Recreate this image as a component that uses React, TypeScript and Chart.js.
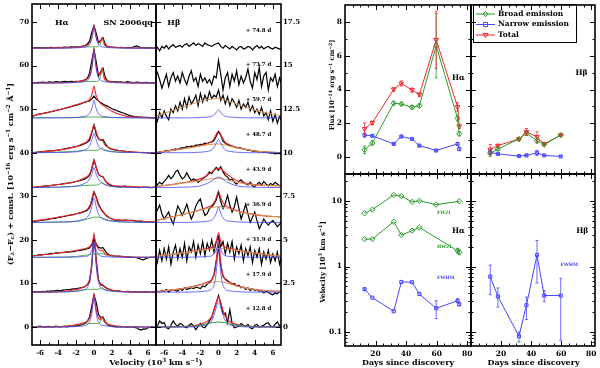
import React, { useEffect, useRef } from "react";
import { Chart, registerables } from "chart.js";

Chart.register(...registerables);

const W = 600;
const H = 368;
const FONT = '"DejaVu Serif", serif';
const RED = "#f0282d";
const BLUE = "#4646ff";
const GREEN = "#2c9c2c";
const TAN = "#d49b52";

// ---------------- spectra data ----------------
const OBS_V = [-7,-6.75,-6.5,-6.25,-6,-5.75,-5.5,-5.25,-5,-4.75,-4.5,-4.25,-4,-3.75,-3.5,-3.25,-3,-2.75,-2.5,-2.25,-2,-1.75,-1.5,-1.25,-1,-0.75,-0.5,-0.25,0,0.25,0.5,0.75,1,1.25,1.5,1.75,2,2.25,2.5,2.75,3,3.25,3.5,3.75,4,4.25,4.5,4.75,5,5.25,5.5,5.75,6,6.25,6.5,6.75,7];
const FIT_V = [-7,-4,-2,-1.2,-0.7,-0.4,-0.2,0,0.2,0.4,0.7,0.9,1.2,2,4,7];

const EPOCHS = ["12.8","17.9","31.9","36.9","43.9","48.7","59.7","73.7","74.8"];
const HA_OFFSET = [0,8,16,24,32,40,48,56,64];
const HB_OFFSET = [0,2,4,6,8,10,12,14,16];

const HA_OBS_128 = [0.05,0,-0.1,0.1,0.2,0.05,-0.05,0.1,0.15,0, 0.05,0.2,0.1,0,0.1,0.15,0.05,0.2,0.25,0.15, 0.25,0.35,0.4,0.6,0.85,1.3,2.2,4.8,7.4,5.6, 2.9,2.1,2.3,1.2,0.5,0.3,0.15,0.1,0.05,0.1, 0,0.1,0.05,-0.05,0.05,0,-0.1,-0.2,-0.55,-0.7, -0.45,-0.5,-0.15,-0.1,0,-0.05,0];
const HA_OBS_179 = [0.1,0,0.1,0.15,0.05,0.2,0.1,0.25,0.2,0.3, 0.25,0.35,0.4,0.3,0.45,0.5,0.6,0.55,0.7,0.75, 0.8,0.9,1.0,1.1,1.3,1.7,2.4,6.0,13.0,7.5, 2.8,1.7,1.5,1.2,0.8,0.6,0.4,0.35,0.25,0.3, 0.2,0.15,0.1,0.2,0.1,0.05,0.15,0,0.1,0.05, 0,0.1,0,-0.05,0.05,0,0];
const HA_OBS_319 = [0.3,0.4,0.35,0.5,0.6,0.55,0.7,0.65,0.8,0.9, 0.85,1.0,0.95,1.1,1.05,1.15,1.25,1.2,1.35,1.3, 1.45,1.55,1.6,1.7,1.8,1.95,2.15,2.9,4.2,3.1, 2.3,2.1,2.2,1.4,0.8,0.5,0.4,0.3,0.2,0.25, 0.2,0.15,0.1,0.1,0.05,0,-0.05,-0.1,-0.25,-0.45, -0.6,-0.35,-0.1,0,0,0.05,0];
const HA_OBS_369 = [0.2,0.25,0.3,0.35,0.45,0.5,0.6,0.65,0.75,0.85, 0.95,1.0,1.15,1.15,1.35,1.4,1.55,1.6,1.75,1.8, 2.0,2.1,2.2,2.35,2.5,2.8,3.4,4.8,7.0,5.8, 4.2,3.2,2.5,1.8,1.3,1.0,0.8,0.6,0.5,0.55, 0.5,0.45,0.6,0.5,0.45,0.5,0.4,0.3,0.25,0.3, 0.2,0.15,0.1,0.15,0.1,0.05,0.1];
const HA_OBS_439 = [0,0.05,0.1,0.2,0.25,0.3,0.35,0.4,0.4,0.5, 0.55,0.65,0.7,0.75,0.85,0.9,1.0,1.05,1.15,1.25, 1.4,1.5,1.65,1.8,2.0,2.3,2.8,4.2,6.3,4.6, 3.0,2.6,2.5,1.6,1.0,0.6,0.45,0.3,0.25,0.2, 0.2,0.3,0.35,0.25,0.3,0.15,0.1,0.05,0,0.05, 0.1,0.05,0.1,0,0.05,0.1,0.05];
const HA_OBS_487 = [0,0.05,0.1,0.15,0.2,0.25,0.3,0.35,0.4,0.45, 0.5,0.55,0.6,0.7,0.8,0.9,1.0,1.1,1.2,1.3, 1.4,1.55,1.7,1.9,2.1,2.4,2.8,4.5,6.4,4.2, 3.2,2.9,3.0,2.1,1.4,1.0,0.8,0.65,0.6,0.5, 0.45,0.4,0.3,0.25,0.2,0.15,0.1,0.1,0.05,0.05, 0,0,-0.05,-0.05,-0.1,-0.1,-0.1];
const HA_OBS_597 = [0.35,0.45,0.6,0.8,0.9,1.0,1.1,1.2,1.3,1.45, 1.55,1.7,1.8,1.9,2.05,2.2,2.3,2.45,2.6,2.75, 2.9,3.05,3.2,3.4,3.6,3.75,3.9,4.3,5.0,4.3, 3.9,3.5,3.2,2.9,2.7,2.4,2.1,1.9,1.7,1.5, 1.3,1.1,0.9,0.7,0.5,0.4,0.3,0.25,0.2,0.15, 0.1,0.1,0.1,0.05,0,0,0];
const HA_OBS_737 = [0.05,0.1,0,0.15,0.1,0.2,0.15,0.1,0.25,0.2, 0.15,0.3,0.25,0.2,0.3,0.35,0.25,0.3,0.35,0.3, 0.4,0.35,0.45,0.55,0.7,1.1,2.2,5.0,7.7,4.8, 1.6,2.6,3.4,1.3,0.5,0.35,0.3,0.25,0.3,0.2, 0.25,0.15,0.2,0.3,0.2,0.15,0.1,0.2,0.15,0.1, 0.05,0.15,0.1,0.05,0.1,0.05,0.1];
const HA_OBS_748 = [0.1,0.05,0.1,0.15,0.1,0.05,0.1,0.15,0.1,0.2, 0.15,0.1,0.2,0.15,0.2,0.25,0.2,0.25,0.3,0.25, 0.3,0.3,0.35,0.45,0.6,0.9,1.6,3.6,5.2,3.4, 1.3,1.8,2.4,0.9,0.4,0.3,0.25,0.2,0.2,0.15, 0.2,0.15,0.1,0.15,0.1,0.2,0.35,0.5,0.3,0.15, 0.1,0.05,0.1,0.05,0,0.05,0.05];
const HA_OBS = [HA_OBS_128, HA_OBS_179, HA_OBS_319, HA_OBS_369, HA_OBS_439, HA_OBS_487, HA_OBS_597, HA_OBS_737, HA_OBS_748];

const HA_BROAD = [
  [0,0.05,0.4,0.68,0.78,0.8,0.82,0.82,0.82,0.8,1.1,2.0,0.9,0.35,0.05,0],
  [0,0.05,0.3,0.5,0.6,0.65,0.65,0.65,0.65,0.65,0.8,1.0,0.6,0.3,0.05,0],
  [0,0.05,0.2,0.4,0.55,0.65,0.7,0.75,0.75,0.75,0.8,0.9,0.6,0.25,0.05,0],
  [0,0.05,0.2,0.5,0.8,1.0,1.1,1.2,1.2,1.2,1.15,1.0,0.8,0.3,0.05,0],
  [0,0.1,0.3,0.45,0.5,0.55,0.55,0.55,0.55,0.6,0.9,1.2,0.7,0.25,0.05,0],
  [0,0.15,0.35,0.5,0.55,0.55,0.55,0.55,0.55,0.6,0.9,1.1,0.7,0.3,0.05,0],
  [0,0.02,0.05,0.1,0.15,0.2,0.2,0.2,0.2,0.2,0.15,0.12,0.1,0.05,0.02,0],
  [0,0.05,0.2,0.3,0.35,0.35,0.35,0.35,0.35,0.4,1.3,3.1,0.6,0.2,0.03,0],
  [0,0.05,0.15,0.25,0.3,0.3,0.3,0.3,0.3,0.35,0.9,2.2,0.5,0.15,0.03,0],
];
const HA_NARROW = [
  [0,0,0.1,0.27,0.6,1.7,3.7,6.8,3.7,1.7,0.6,0.4,0.27,0.1,0,0],
  [0,0.02,0.2,0.5,1.2,3.3,7.2,13,7.2,3.3,1.2,0.8,0.5,0.2,0.02,0],
  [0,0,0.05,0.14,0.32,0.9,1.9,3.5,1.9,0.9,0.32,0.2,0.14,0.05,0,0],
  [0,0.1,0.3,0.7,1.3,2.4,4.0,5.6,4.0,2.4,1.3,0.9,0.6,0.3,0.1,0],
  [0,0.1,0.35,0.8,1.4,2.3,3.3,4.6,3.3,2.3,1.4,1.0,0.7,0.3,0.05,0],
  [0,0.05,0.2,0.5,1.0,2.0,3.2,4.4,3.2,2.0,1.0,0.7,0.5,0.2,0.05,0],
  [0,0.02,0.1,0.3,0.6,1.3,2.4,4.0,2.4,1.3,0.6,0.4,0.3,0.1,0.02,0],
  [0,0,0.1,0.3,0.65,1.8,3.9,7.2,3.9,1.8,0.65,0.45,0.3,0.1,0,0],
  [0,0,0.07,0.2,0.45,1.2,2.6,4.8,2.6,1.2,0.45,0.3,0.2,0.07,0,0],
];
const HA_TOTAL = [
  [0,0.05,0.5,0.95,1.38,2.5,4.5,7.6,4.5,2.5,1.7,2.4,1.17,0.45,0.05,0],
  [0,0.1,0.6,1.1,1.9,4.0,7.9,13.7,7.9,4.0,2.0,1.8,1.1,0.5,0.07,0],
  [0.3,1.0,1.55,1.9,2.2,2.6,3.3,4.8,3.2,2.2,1.5,1.6,0.85,0.4,0.08,0],
  [0.2,1.2,2.0,2.5,3.1,4.2,5.8,7.1,5.9,4.4,3.2,2.6,2.0,0.8,0.45,0.1],
  [0,0.7,1.4,2.1,2.6,3.5,4.9,6.3,4.9,3.5,2.7,2.6,1.7,0.55,0.25,0],
  [0,0.6,1.4,2.1,2.7,3.9,5.2,6.3,5.2,3.9,2.9,2.9,1.8,0.9,0.2,0],
  [0.4,1.8,3.0,3.5,3.85,4.5,5.6,7.3,5.4,4.3,3.4,3.05,2.6,1.5,0.22,0],
  [0,0.05,0.3,0.6,1.0,2.15,4.25,7.55,4.25,2.2,1.95,3.5,0.9,0.3,0.03,0],
  [0,0.05,0.22,0.45,0.75,1.5,2.9,5.1,2.9,1.55,1.35,2.5,0.7,0.22,0.03,0],
];

const HB_OBS_128 = [0,0.05,0.35,0.2,0.25,-0.05,-0.1,0.1,0.35,0.15, 0.05,0.2,0.15,0,-0.05,0.1,0.2,0.05,-0.15,0.05, 0.2,0,-0.05,0.15,0.35,0.55,1.0,1.4,1.8,1.35, 0.75,0.8,0.25,1.0,0.2,-0.05,0,0.05,0.2,0.1, 0.05,0.15,-0.05,-0.1,0.1,0.15,0,0.05,0.1,0.2, 0.25,0.05,0,0.15,0.3,0.05,0.1];
const HB_OBS_179 = [-0.05,0.05,0,0.1,0.05,0.15,0,0.1,0.15,0.1, 0.05,0.2,0.1,0.25,0.15,0.2,0.25,0.2,0.3,0.25, 0.2,0.35,0.3,0.45,0.55,0.7,1.0,1.8,2.6,1.5, 0.9,0.75,0.65,0.55,0.45,0.5,0.35,0.4,0.25,0.3, 0.15,0.25,0.1,0.2,0.1,0.15,0.05,0.1,-0.05,0.05, 0,-0.1,-0.15,-0.05,-0.1,0.05,0];
const HB_OBS_319 = [0.1,-0.3,0.4,-0.2,0.5,-0.1,0.6,-0.4,0.3,0.7, -0.1,0.5,0,0.8,-0.2,0.6,0.3,0.9,0,0.7, 0.2,0.9,0.1,0.8,0.4,1.0,0.3,0.9,1.2,0.6, 0.9,0.2,0.8,0.3,0.9,-0.1,0.6,0.2,0.7,-0.2, 0.5,0.1,0.6,-0.3,0.4,0,0.5,-0.4,0.3,-0.1, 0.4,-0.3,0.2,-0.2,0.3,-0.4,0.1];
const HB_OBS_369 = [0.5,0.7,1.0,0.5,0.2,0.4,0.6,0.2,-0.1,0.4, 0.95,0.7,0.4,0.7,1.05,0.6,0.2,0.5,0.95,1.2, 1.35,0.8,0.4,0.5,0.8,0.9,1.05,1.3,1.75,1.2, 0.8,1.1,1.55,1.0,0.6,0.9,1.45,0.8,0.2,0.6, 1.05,0.5,0,0.3,0.6,0.1,-0.35,-0.1,0.2,0, -0.15,0,0.1,-0.05,-0.25,-0.1,0];
const HB_OBS_439 = [0,0.15,0.3,0.2,0.35,0.5,0.7,0.5,0.65,0.9, 1.0,0.7,0.5,0.6,0.85,0.6,0.4,0.5,0.45,0.3, 0.4,0.5,0.6,0.7,0.9,0.8,1.0,1.15,1.0,1.2, 0.9,0.7,0.6,0.4,0.5,0.3,0.2,0.35,0.45,0.3, 0.2,0.15,0.3,0.1,0.05,0.2,0.3,0.15,0.35,0.2, 0.1,0.25,0.15,0.3,0.2,0.1,0.15];
const HB_OBS_487 = [0,-0.02,0.05,0.02,0.08,0.14,0.1,0.15,0.15,0.22, 0.2,0.25,0.29,0.27,0.36,0.33,0.38,0.37,0.44,0.43, 0.48,0.47,0.55,0.52,0.6,0.6,0.7,0.95,1.22,1.0, 0.65,0.55,0.46,0.42,0.38,0.33,0.28,0.3,0.27,0.2, 0.19,0.14,0.15,0.09,0.1,0.08,0.05,0.07,0.02,0.05, 0,-0.02,-0.01,-0.06,-0.02,-0.05,-0.04];
const HB_OBS_597 = [0.1,-0.2,0.3,0,0.4,0.1,-0.1,0.5,0.3,0.7, 0.4,0.9,0.5,1.1,0.6,1.2,0.8,1.0,1.3,0.7, 1.4,0.9,1.3,1.0,1.5,1.1,1.3,1.2,1.6,1.0, 1.3,0.8,1.2,0.7,1.1,0.9,0.6,1.0,0.5,0.8, 0.6,0.9,0.4,0.7,0.3,0.5,0.2,0.6,0.1,0.3, -0.1,0.4,-0.2,0.2,-0.3,0.1,-0.2];
const HB_OBS_737 = [0.9,0.6,0.2,-0.3,0.1,0.5,-0.2,0.3,0.6,0.1, 0.4,0,0.6,0.2,-0.1,0.4,0.7,0.1,0.3,-0.2, 0.5,0.1,0.3,0,0.2,-0.1,0.4,0.3,1.3,0.5, -0.4,0.3,0.6,-0.2,0.5,0.1,0.7,-0.1,0.4,0, 0.3,0.8,0.1,-0.3,0.6,0.2,0.9,-0.2,0.4,0.6, -0.4,0.3,0.1,0.5,-0.2,0.3,-0.1];
const HB_OBS_748 = [-0.1,0.05,-0.15,0.1,0,0.15,-0.05,0.1,0.2,0.05, 0.1,0.15,0.05,0.2,0.25,0.1,0.2,0.3,0.15,0.25, 0.2,0.1,0.3,0.2,0.15,0.1,0.2,0.25,0.3,0.1, 0,0.15,0.05,-0.05,0.1,0,-0.1,0.05,0.1,-0.05, 0,0.1,0.05,-0.1,0.05,0.15,0,0.1,-0.05,0.05, 0.1,0,-0.05,0.05,0,-0.05,0];
const HB_OBS = [HB_OBS_128, HB_OBS_179, HB_OBS_319, HB_OBS_369, HB_OBS_439, HB_OBS_487, HB_OBS_597, HB_OBS_737, HB_OBS_748];

const HB_BROAD = [
  [0,0.02,0.1,0.2,0.25,0.27,0.28,0.28,0.28,0.27,0.25,0.22,0.18,0.1,0.02,0],
  [0.02,0.2,0.4,0.5,0.55,0.58,0.6,0.6,0.6,0.58,0.55,0.52,0.48,0.35,0.15,0.03],
  [0.05,0.25,0.4,0.45,0.48,0.5,0.5,0.5,0.5,0.5,0.48,0.47,0.45,0.4,0.25,0.05],
  [0.1,0.45,0.7,0.8,0.85,0.88,0.9,0.9,0.9,0.88,0.85,0.82,0.78,0.65,0.45,0.3],
  [0.05,0.25,0.4,0.48,0.5,0.52,0.52,0.52,0.52,0.5,0.48,0.46,0.42,0.3,0.15,0.1],
  [0,0.22,0.38,0.45,0.48,0.5,0.5,0.5,0.5,0.48,0.45,0.42,0.38,0.28,0.1,0],
  [0.1,0.6,0.95,1.05,1.08,1.1,1.1,1.1,1.08,1.06,1.02,1.0,0.95,0.8,0.45,0.1],
  null,
  null,
];
const HB_NARROW = [
  [0,0,0.05,0.15,0.4,0.85,1.2,1.45,1.2,0.85,0.4,0.3,0.15,0.05,0,0],
  [0,0,0.03,0.08,0.2,0.6,1.4,2.5,1.4,0.6,0.2,0.12,0.08,0.03,0,0],
  [0,0,0.02,0.05,0.1,0.25,0.5,0.9,0.5,0.25,0.1,0.07,0.05,0.02,0,0],
  [0,0,0.03,0.07,0.15,0.35,0.6,0.9,0.6,0.35,0.15,0.1,0.07,0.03,0,0],
  [0,0.02,0.1,0.25,0.4,0.52,0.58,0.6,0.58,0.52,0.4,0.32,0.25,0.1,0.02,0],
  [0,0,0.03,0.08,0.18,0.4,0.6,0.75,0.6,0.4,0.18,0.12,0.08,0.03,0,0],
  [0,0,0.02,0.05,0.1,0.22,0.35,0.46,0.35,0.22,0.1,0.07,0.05,0.02,0,0],
  null,
  null,
];
const HB_TOTAL = [
  [0,0.02,0.15,0.35,0.65,1.12,1.48,1.73,1.48,1.12,0.65,0.52,0.33,0.15,0.02,0],
  [0.02,0.2,0.43,0.58,0.75,1.18,2.0,3.1,2.0,1.18,0.75,0.64,0.56,0.38,0.15,0.03],
  [0.05,0.25,0.42,0.5,0.58,0.75,1.0,1.4,1.0,0.75,0.58,0.54,0.5,0.42,0.25,0.05],
  [0.1,0.45,0.73,0.87,1.0,1.23,1.5,1.8,1.5,1.23,1.0,0.92,0.85,0.68,0.45,0.3],
  [0.05,0.27,0.5,0.73,0.9,1.04,1.1,1.12,1.1,1.02,0.88,0.78,0.67,0.4,0.17,0.1],
  [0,0.22,0.41,0.53,0.66,0.9,1.1,1.25,1.1,0.88,0.63,0.54,0.46,0.31,0.1,0],
  null,
  null,
  null,
];
const HB_BROAD_COLOR = [GREEN, TAN, TAN, TAN, TAN, TAN, TAN, TAN, TAN];

// ---------------- line-measurement data ----------------
const DAYS_HA = [12.8,17.9,31.9,36.9,43.9,48.7,59.7,73.7,74.8];
const HA_FLUX_BROAD = [0.43,0.83,3.19,3.14,2.95,3.04,6.59,2.29,1.38];
const HA_FLUX_BROAD_ERR = [0.22,0.12,0.1,0.1,0.1,0.1,1.9,0.15,0.12];
const HA_FLUX_NARROW = [1.30,1.26,0.78,1.22,1.07,0.68,0.39,0.78,0.48];
const HA_FLUX_NARROW_ERR = [0.12,0.06,0.04,0.05,0.05,0.04,0.04,0.08,0.1];
const HA_FLUX_TOTAL = [1.67,2.03,4.01,4.36,3.97,3.70,6.94,2.97,1.82];
const HA_FLUX_TOTAL_ERR = [0.35,0.1,0.1,0.15,0.12,0.1,1.7,0.25,0.12];

const DAYS_HB = [12.8,17.9,31.9,36.9,43.9,48.7,59.7];
const HB_FLUX_BROAD = [0.23,0.48,1.07,1.41,0.97,0.74,1.30];
const HB_FLUX_BROAD_ERR = [0.2,0.08,0.06,0.12,0.15,0.06,0.05];
const HB_FLUX_NARROW = [0.29,0.19,0.06,0.10,0.25,0.10,0.04];
const HB_FLUX_NARROW_ERR = [0.12,0.04,0.03,0.04,0.15,0.04,0.03];
const HB_FLUX_TOTAL = [0.45,0.68,1.07,1.49,1.20,0.78,1.30];
const HB_FLUX_TOTAL_ERR = [0.3,0.08,0.06,0.2,0.3,0.06,0.05];

const DAYS_FWZI = [12.8,17.9,31.9,36.9,43.9,48.7,59.7,74.8];
const HA_FWZI = [6.5,7.4,12.4,11.9,9.7,10.1,8.8,9.9];
const DAYS_HWZI = [12.8,17.9,31.9,36.9,43.9,48.7,73.7,74.8];
const HA_HWZI = [2.62,2.62,4.83,3.02,3.52,3.95,1.74,1.65];
const HA_HWZI_LO = [2.62,2.62,4.83,3.02,3.52,3.95,1.6,1.52];
const HA_HWZI_HI = [2.62,2.62,4.83,3.02,3.52,3.95,1.9,1.8];
const HA_FWHM = [0.45,0.334,0.207,0.58,0.576,0.38,0.23,0.30,0.266];
const HA_FWHM_LO = [0.43,0.334,0.207,0.58,0.576,0.38,0.16,0.28,0.25];
const HA_FWHM_HI = [0.47,0.334,0.207,0.58,0.576,0.38,0.30,0.32,0.28];
const HB_FWHM = [0.70,0.35,0.086,0.256,1.5,0.36,0.36];
const HB_FWHM_LO = [0.37,0.24,0.07,0.155,0.56,0.29,0.075];
const HB_FWHM_HI = [1.05,0.47,0.10,0.34,2.5,0.43,0.66];

// tick values
const VEL_TICKS = [-6,-4,-2,0,2,4,6];
const VEL_MINOR = [-5,-3,-1,1,3,5];
const HA_Y_TICKS = [0,10,20,30,40,50,60,70];
const HB_Y_TICKS = [0,2.5,5,7.5,10,12.5,15,17.5];
const DAY_TICKS = [20,40,60,80];
const DAY_MINOR = [5,10,15,25,30,35,45,50,55,65,70,75];
const FLUX_TICKS = [0,2,4,6,8];
const FLUX_MINOR = [1,3,5,7];
const LOG_TICKS = [0.1,1,10];
const LOG_MINOR = [0.07,0.08,0.09,0.2,0.3,0.4,0.5,0.6,0.7,0.8,0.9,2,3,4,5,6,7,8,9,20];

// ---------------- helpers ----------------
function axis(s: any, horizontal: boolean) {
  return {
    type: s.type || "linear",
    position: s.position,
    min: s.min,
    max: s.max,
    grid: { display: false, drawTicks: false },
    border: { display: false },
    ticks: {
      display: !!s.labels,
      autoSkip: false,
      maxRotation: 0,
      minRotation: 0,
      padding: s.pad ?? 3,
      color: "#000",
      font: { family: FONT, size: s.font ?? 7, weight: "bold" },
      callback: (v: any) => String(v),
    },
    afterBuildTicks: (sc: any) => {
      sc.ticks = (s.labels || []).map((v: number) => ({ value: v }));
    },
    afterFit: (sc: any) => {
      if (horizontal) sc.height = s.size || 0;
      else sc.width = s.size || 0;
      sc.paddingLeft = 0;
      sc.paddingRight = 0;
      sc.paddingTop = 0;
      sc.paddingBottom = 0;
    },
  };
}

function baseOptions(area: any, xs: any, ys: any) {
  const yW = ys.size || 0;
  const xH = xs.size || 0;
  return {
    responsive: false,
    animation: false,
    devicePixelRatio: 1,
    events: [],
    layout: {
      padding: {
        left: ys.position === "left" ? area.l - yW : area.l,
        right: ys.position === "right" ? W - area.r - yW : W - area.r,
        top: area.t,
        bottom: H - area.b - xH,
      },
    },
    plugins: { legend: { display: false }, tooltip: { enabled: false } },
    scales: { x: axis(xs, true), y: axis(ys, false) },
  };
}

function drawMarker(ctx: any, kind: string, x: number, y: number, r: number, color: string) {
  ctx.beginPath();
  if (kind === "diamond") {
    ctx.moveTo(x, y - r); ctx.lineTo(x + r, y); ctx.lineTo(x, y + r); ctx.lineTo(x - r, y); ctx.closePath();
  } else if (kind === "square") {
    ctx.rect(x - r * 0.8, y - r * 0.8, r * 1.6, r * 1.6);
  } else {
    ctx.moveTo(x - r, y - r * 0.6); ctx.lineTo(x + r, y - r * 0.6); ctx.lineTo(x, y + r); ctx.closePath();
  }
  ctx.strokeStyle = color;
  ctx.lineWidth = 1;
  ctx.stroke();
}

function decor(cfg: any) {
  return {
    id: "decor",
    afterDatasetsDraw(chart: any) {
      const { ctx, chartArea: a, scales } = chart;
      const xs = scales.x;
      const ys = scales.y;
      ctx.save();
      // error bars
      ctx.save();
      ctx.beginPath();
      ctx.rect(a.left, a.top, a.right - a.left, a.bottom - a.top);
      ctx.clip();
      chart.data.datasets.forEach((ds: any) => {
        if (!ds.errLo) return;
        ctx.strokeStyle = ds.borderColor;
        ctx.lineWidth = 0.8;
        ds.data.forEach((p: any, i: number) => {
          const lo = ds.errLo[i];
          const hi = ds.errHi[i];
          if (lo == null || hi == null || lo === hi) return;
          const px = xs.getPixelForValue(p.x);
          const y1 = ys.getPixelForValue(lo);
          const y2 = ys.getPixelForValue(hi);
          ctx.beginPath();
          ctx.moveTo(px, y1); ctx.lineTo(px, y2);
          ctx.moveTo(px - 1.5, y1); ctx.lineTo(px + 1.5, y1);
          ctx.moveTo(px - 1.5, y2); ctx.lineTo(px + 1.5, y2);
          ctx.stroke();
        });
      });
      ctx.restore();
      // notes
      (cfg.notes || []).forEach((n: any) => {
        ctx.font = `bold ${n.size || 8}px ${FONT}`;
        ctx.fillStyle = n.color || "#000";
        ctx.textAlign = n.align || "left";
        ctx.textBaseline = "middle";
        ctx.fillText(n.text, xs.getPixelForValue(n.x), ys.getPixelForValue(n.y));
      });
      // legend box
      if (cfg.legend) {
        const L = cfg.legend;
        ctx.fillStyle = "#fff";
        ctx.fillRect(L.x0, L.y0, L.x1 - L.x0, L.y1 - L.y0);
        ctx.strokeStyle = "#000";
        ctx.lineWidth = 1;
        ctx.strokeRect(L.x0 + 0.5, L.y0 + 0.5, L.x1 - L.x0, L.y1 - L.y0);
        L.items.forEach((it: any) => {
          ctx.strokeStyle = it.color;
          ctx.lineWidth = 1;
          ctx.beginPath();
          ctx.moveTo(L.x0 + 3, it.y);
          ctx.lineTo(L.x0 + 22, it.y);
          ctx.stroke();
          drawMarker(ctx, it.kind, L.x0 + 12.5, it.y, 2.6, it.color);
          ctx.font = `bold 7.5px ${FONT}`;
          ctx.fillStyle = "#000";
          ctx.textAlign = "left";
          ctx.textBaseline = "middle";
          ctx.fillText(it.text, L.x0 + 25, it.y);
        });
      }
      // inward ticks
      ctx.strokeStyle = "#000";
      ctx.lineWidth = 1;
      const seg = (x1: number, y1: number, x2: number, y2: number) => {
        ctx.beginPath(); ctx.moveTo(x1, y1); ctx.lineTo(x2, y2); ctx.stroke();
      };
      const xt = (vals: number[], len: number) =>
        (vals || []).forEach((v) => {
          const px = Math.round(xs.getPixelForValue(v)) + 0.5;
          if (px <= a.left + 1 || px >= a.right - 1) return;
          seg(px, a.bottom, px, a.bottom - len);
          seg(px, a.top, px, a.top + len);
        });
      const yt = (vals: number[], len: number) =>
        (vals || []).forEach((v) => {
          const py = Math.round(ys.getPixelForValue(v)) + 0.5;
          if (py <= a.top + 1 || py >= a.bottom - 1) return;
          seg(a.left, py, a.left + len, py);
          seg(a.right, py, a.right - len, py);
        });
      xt(cfg.xMajor, 5);
      xt(cfg.xMinor, 2.5);
      yt(cfg.yMajor, 5);
      yt(cfg.yMinor, 2.5);
      ctx.lineWidth = 1.6;
      ctx.strokeRect(a.left, a.top, a.right - a.left, a.bottom - a.top);
      ctx.restore();
    },
  };
}

function curve(xv: number[], yv: number[], off: number, color: string, width: number, smooth: boolean) {
  return {
    data: xv.map((x, k) => ({ x, y: off + yv[k] })),
    borderColor: color,
    borderWidth: width,
    pointRadius: 0,
    fill: false,
    tension: 0,
    cubicInterpolationMode: smooth ? "monotone" : "default",
  };
}

function series(days: number[], vals: number[], color: string, style: string, lo?: number[], hi?: number[]) {
  return {
    data: days.map((d, k) => ({ x: d, y: vals[k] })),
    borderColor: color,
    borderWidth: 1,
    pointStyle: style === "diamond" ? "rectRot" : style === "square" ? "rect" : "triangle",
    pointRotation: style === "tri" ? 180 : 0,
    pointRadius: style === "square" ? 2.2 : 2.7,
    pointBorderColor: color,
    pointBackgroundColor: "rgba(0,0,0,0)",
    pointBorderWidth: 1,
    fill: false,
    tension: 0,
    errLo: lo,
    errHi: hi,
  };
}

const minus = (v: number[], e: number[]) => v.map((x, i) => x - e[i]);
const plus = (v: number[], e: number[]) => v.map((x, i) => x + e[i]);

// ---------------- chart configs ----------------
function cfgHaSpectra() {
  const ds: any[] = [];
  EPOCHS.forEach((_, i) => {
    const off = HA_OFFSET[i];
    ds.push(curve(OBS_V, HA_OBS[i], off, "#000", 1.2, false));
    ds.push(curve(FIT_V, HA_BROAD[i], off, GREEN, 0.8, true));
    ds.push(curve(FIT_V, HA_TOTAL[i], off, RED, 1.1, true));
    ds.push(curve(FIT_V, HA_NARROW[i], off, BLUE, 0.8, true));
  });
  return {
    type: "line",
    data: { datasets: ds.reverse() },
    options: baseOptions(
      { l: 32, t: 4, r: 156, b: 345 },
      { min: -6.9, max: 6.9, position: "bottom", size: 15, labels: VEL_TICKS, pad: 4, font: 7 },
      { min: -4.13, max: 74.13, position: "left", size: 32, labels: HA_Y_TICKS, pad: 3, font: 7 }
    ),
    plugins: [
      decor({
        xMajor: VEL_TICKS, xMinor: VEL_MINOR, yMajor: HA_Y_TICKS,
        notes: [
          { x: -4.35, y: 69.7, text: "Hα", size: 8 },
          { x: 6.55, y: 69.7, text: "SN 2006qq", size: 8, align: "right" },
        ],
      }),
    ],
  };
}

function cfgHbSpectra() {
  const ds: any[] = [];
  EPOCHS.forEach((_, i) => {
    const off = HB_OFFSET[i];
    ds.push(curve(OBS_V, HB_OBS[i], off, "#000", 1.2, false));
    if (HB_TOTAL[i]) ds.push(curve(FIT_V, HB_TOTAL[i] as number[], off, RED, 1.1, true));
    if (HB_BROAD[i]) ds.push(curve(FIT_V, HB_BROAD[i] as number[], off, HB_BROAD_COLOR[i], 1.0, true));
    if (HB_NARROW[i]) ds.push(curve(FIT_V, HB_NARROW[i] as number[], off, BLUE, 0.8, true));
  });
  return {
    type: "line",
    data: { datasets: ds.reverse() },
    options: baseOptions(
      { l: 156, t: 4, r: 281, b: 345 },
      { min: -6.9, max: 6.9, position: "bottom", size: 15, labels: VEL_TICKS, pad: 4, font: 7 },
      { min: -1.033, max: 18.533, position: "right", size: 19, labels: HB_Y_TICKS, pad: 2, font: 7 }
    ),
    plugins: [
      decor({
        xMajor: VEL_TICKS, xMinor: VEL_MINOR, yMajor: HB_Y_TICKS,
        notes: [
          { x: -5.65, y: 17.43, text: "Hβ", size: 8 },
          ...EPOCHS.map((e, i) => ({ x: 3.0, y: HB_OFFSET[i] + 1.03, text: "+ " + e + " d", size: 5.5 })),
        ],
      }),
    ],
  };
}

function cfgFlux(which: string) {
  const isHa = which === "ha";
  const days = isHa ? DAYS_HA : DAYS_HB;
  const b = isHa ? HA_FLUX_BROAD : HB_FLUX_BROAD;
  const be = isHa ? HA_FLUX_BROAD_ERR : HB_FLUX_BROAD_ERR;
  const n = isHa ? HA_FLUX_NARROW : HB_FLUX_NARROW;
  const ne = isHa ? HA_FLUX_NARROW_ERR : HB_FLUX_NARROW_ERR;
  const t = isHa ? HA_FLUX_TOTAL : HB_FLUX_TOTAL;
  const te = isHa ? HA_FLUX_TOTAL_ERR : HB_FLUX_TOTAL_ERR;
  const ds = [
    series(days, b, GREEN, "diamond", minus(b, be), plus(b, be)),
    series(days, n, BLUE, "square", minus(n, ne), plus(n, ne)),
    series(days, t, RED, "tri", minus(t, te), plus(t, te)),
  ];
  return {
    type: "line",
    data: { datasets: ds },
    options: baseOptions(
      isHa ? { l: 345, t: 4, r: 471, b: 174 } : { l: 471, t: 4, r: 596, b: 174 },
      { min: 0, max: 82.5, position: "bottom", size: 0 },
      isHa
        ? { min: -1, max: 9, position: "left", size: 14, labels: FLUX_TICKS, pad: 3, font: 7.5 }
        : { min: -1, max: 9, position: "left", size: 0 }
    ),
    plugins: [
      decor({
        xMajor: DAY_TICKS, xMinor: DAY_MINOR, yMajor: FLUX_TICKS, yMinor: FLUX_MINOR,
        notes: isHa ? [{ x: 70, y: 4.67, text: "Hα", size: 7.5 }] : [{ x: 69.5, y: 4.96, text: "Hβ", size: 7.5 }],
        legend: isHa
          ? null
          : {
              x0: 473, y0: 4, x1: 576, y1: 42,
              items: [
                { y: 14, color: GREEN, kind: "diamond", text: "Broad emission" },
                { y: 24.5, color: BLUE, kind: "square", text: "Narrow emission" },
                { y: 35, color: RED, kind: "tri", text: "Total" },
              ],
            },
      }),
    ],
  };
}

function cfgVel(which: string) {
  const isHa = which === "ha";
  const ds = isHa
    ? [
        series(DAYS_FWZI, HA_FWZI, GREEN, "diamond"),
        series(DAYS_HWZI, HA_HWZI, GREEN, "diamond", HA_HWZI_LO, HA_HWZI_HI),
        series(DAYS_HA, HA_FWHM, BLUE, "square", HA_FWHM_LO, HA_FWHM_HI),
      ]
    : [series(DAYS_HB, HB_FWHM, BLUE, "square", HB_FWHM_LO, HB_FWHM_HI)];
  return {
    type: "line",
    data: { datasets: ds },
    options: baseOptions(
      isHa ? { l: 345, t: 174, r: 471, b: 346 } : { l: 471, t: 174, r: 596, b: 346 },
      { min: 0, max: 82.5, position: "bottom", size: 14, labels: DAY_TICKS, pad: 4, font: 7.5 },
      isHa
        ? { type: "logarithmic", min: 0.061, max: 25.9, position: "left", size: 16, labels: LOG_TICKS, pad: 3, font: 7.5 }
        : { type: "logarithmic", min: 0.061, max: 25.9, position: "left", size: 0 }
    ),
    plugins: [
      decor({
        xMajor: DAY_TICKS, xMinor: DAY_MINOR, yMajor: LOG_TICKS, yMinor: LOG_MINOR,
        notes: isHa
          ? [
              { x: 70, y: 3.5, text: "Hα", size: 7.5 },
              { x: 60.2, y: 6.56, text: "FWZI", size: 4.5, color: GREEN },
              { x: 60.2, y: 1.99, text: "HWZI", size: 4.5, color: GREEN },
              { x: 60.2, y: 0.667, text: "FWHM", size: 4.5, color: BLUE },
            ]
          : [
              { x: 70, y: 3.5, text: "Hβ", size: 7.5 },
              { x: 59.6, y: 1.05, text: "FWHM", size: 4.5, color: BLUE },
            ],
      }),
    ],
  };
}

const MAKERS = [
  cfgHaSpectra,
  cfgHbSpectra,
  () => cfgFlux("ha"),
  () => cfgFlux("hb"),
  () => cfgVel("ha"),
  () => cfgVel("hb"),
];

function ChartLayer({ make }: { make: () => any }) {
  const ref = useRef<HTMLCanvasElement | null>(null);
  useEffect(() => {
    const c = new Chart(ref.current as HTMLCanvasElement, make());
    return () => c.destroy();
  }, [make]);
  return (
    <canvas
      ref={ref}
      width={W}
      height={H}
      style={{ position: "absolute", left: 0, top: 0, width: W, height: H }}
    />
  );
}

const supS: any = { fontSize: "70%", verticalAlign: "0.45em", lineHeight: 0 };
const subS: any = { fontSize: "70%", verticalAlign: "-0.25em", lineHeight: 0 };

function Txt({ x, y, rot, size, children }: any) {
  return (
    <div
      style={{
        position: "absolute",
        left: x,
        top: y,
        transform: `translate(-50%,-50%)${rot ? " rotate(-90deg)" : ""}`,
        whiteSpace: "nowrap",
        font: `bold ${size}px ${FONT}`,
        color: "#000",
        lineHeight: 1,
      }}
    >
      {children}
    </div>
  );
}

export default function App() {
  return (
    <div style={{ position: "absolute", left: 0, top: 0, width: W, height: H, background: "#fff", overflow: "hidden" }}>
      {MAKERS.map((m, i) => (
        <ChartLayer key={i} make={m} />
      ))}
      <Txt x={10} y={174} rot size={8}>
        (F<span style={subS}>λ</span>−F<span style={subS}>c</span>) + const. [10<span style={supS}>−16</span> erg s
        <span style={supS}>−1</span> cm<span style={supS}>−2</span> Å<span style={supS}>−1</span>]
      </Txt>
      <Txt x={156} y={362} size={8}>
        Velocity (10<span style={supS}>3</span> km s<span style={supS}>−1</span>)
      </Txt>
      <Txt x={332} y={85} rot size={6.5}>
        Flux [10<span style={supS}>−14</span> erg s<span style={supS}>−1</span> cm<span style={supS}>−2</span>]
      </Txt>
      <Txt x={322} y={262} rot size={7}>
        Velocity [10<span style={supS}>3</span> km s<span style={supS}>−1</span>]
      </Txt>
      <Txt x={408} y={362} size={8}>Days since discovery</Txt>
      <Txt x={533.5} y={362} size={8}>Days since discovery</Txt>
    </div>
  );
}
